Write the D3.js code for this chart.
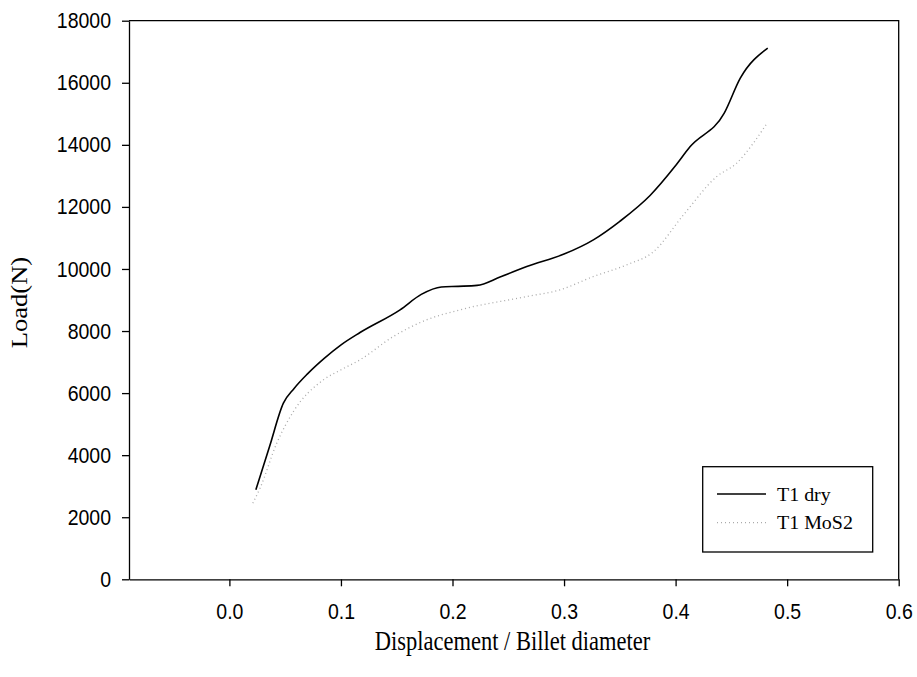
<!DOCTYPE html>
<html>
<head>
<meta charset="utf-8">
<script src="https://cdn.jsdelivr.net/npm/d3@7"></script>
<style>
    body { margin: 0; background: #fff; }
    .tick text { font-family: "Liberation Sans", Arial, sans-serif; font-size: 19.5px; fill: #000;
        transform-box: fill-box; transform-origin: center; transform: scaleY(1.12); }
    .domain, .tick line { stroke: #000; stroke-width: 1.3px; }
</style>
</head>
<body>
<div id="chart"></div>
<script>
// données
const xDry = [0.0237, 0.036, 0.0484, 0.058, 0.07, 0.085, 0.1001, 0.1171, 0.153, 0.172, 0.19, 0.205, 0.222, 0.2426, 0.2666, 0.3, 0.3263, 0.350, 0.3771, 0.3995, 0.4129, 0.4436, 0.458, 0.4826];
const loadDry = [2884, 4280, 5677, 6150, 6620, 7120, 7556, 7952, 8684, 9180, 9420, 9440, 9470, 9738, 10079, 10480, 10939, 11535, 12367, 13307, 13936, 15021, 16150, 17116];

const xMoS2 = [0.021, 0.0275, 0.0425, 0.0574, 0.0843, 0.1001, 0.1171, 0.147, 0.1769, 0.2068, 0.2666, 0.2964, 0.3263, 0.3562, 0.38, 0.4069, 0.4369, 0.4548, 0.4697, 0.481];
const loadMoS2 = [2455, 2939, 4389, 5407, 6428, 6751, 7073, 7824, 8362, 8684, 9112, 9328, 9757, 10134, 10550, 11736, 12979, 13411, 14055, 14645];

const xTicks = [0.0, 0.1, 0.2, 0.3, 0.4, 0.5, 0.6];
const yTicks = [0, 2000, 4000, 6000, 8000, 10000, 12000, 14000, 16000, 18000];
const seriesNames = ["T1 dry", "T1 MoS2"];

const width = 917;
const height = 677;
const marginLeft = 129;
const marginRight = 18.3;
const marginTop = 20.7;
const marginBottom = 97.7;

const x = d3.scaleLinear()
    .domain([-0.09, 0.6])
    .range([marginLeft, width - marginRight]);

const y = d3.scaleLinear()
    .domain([0, 18000])
    .range([height - marginBottom, marginTop]);

const svg = d3.select("#chart")
    .append("svg")
    .attr("width", width)
    .attr("height", height);

// cadre (haut et droite)
svg.append("path")
    .attr("d", `M${x.range()[0]},${y(18000)}H${x.range()[1]}V${y(0)}`)
    .attr("fill", "none")
    .attr("stroke", "#000")
    .attr("stroke-width", 1.3);

// axes
svg.append("g")
    .attr("transform", `translate(0,${y(0)})`)
    .call(d3.axisBottom(x).tickValues(xTicks).tickFormat(d3.format(".1f")).tickSize(7).tickPadding(18).tickSizeOuter(0));

svg.append("g")
    .attr("transform", `translate(${marginLeft},0)`)
    .call(d3.axisLeft(y).tickValues(yTicks).tickFormat(d => d).tickSize(7).tickPadding(11).tickSizeOuter(0));

// titres des axes
svg.append("text")
    .attr("transform", `translate(512.5,650) scale(1,1.18)`)
    .attr("text-anchor", "middle")
    .style("font-family", "'Liberation Serif', 'Times New Roman', serif")
    .style("font-size", "22.5px")
    .text("Displacement / Billet diameter");

svg.append("text")
    .attr("transform", `translate(27,302.5) rotate(-90) scale(1.18,1)`)
    .attr("text-anchor", "middle")
    .style("font-family", "'Liberation Serif', 'Times New Roman', serif")
    .style("font-size", "22.5px")
    .text("Load(N)");

// courbes
const line = d3.line()
    .x(d => x(d[0]))
    .y(d => y(d[1]))
    .curve(d3.curveMonotoneX);

svg.append("path")
    .datum(d3.zip(xMoS2, loadMoS2))
    .attr("d", line)
    .attr("fill", "none")
    .attr("stroke", "#aaa")
    .attr("stroke-width", 1.3)
    .attr("stroke-dasharray", "1,3");

svg.append("path")
    .datum(d3.zip(xDry, loadDry))
    .attr("d", line)
    .attr("fill", "none")
    .attr("stroke", "#000")
    .attr("stroke-width", 1.6);

// légende
const legend = svg.append("g");
legend.append("rect")
    .attr("x", 702.7)
    .attr("y", 466.7)
    .attr("width", 170)
    .attr("height", 85.3)
    .attr("fill", "#fff")
    .attr("stroke", "#000")
    .attr("stroke-width", 1.3);

const styles = [{stroke: "#000", dash: null, w: 1.6}, {stroke: "#aaa", dash: "1,3", w: 1.3}];
seriesNames.forEach((name, i) => {
    const ly = 494 + i * 28.7;
    legend.append("line")
        .attr("x1", 717).attr("x2", 766)
        .attr("y1", ly).attr("y2", ly)
        .attr("stroke", styles[i].stroke)
        .attr("stroke-width", styles[i].w)
        .attr("stroke-dasharray", styles[i].dash);
    legend.append("text")
        .attr("transform", `translate(777,${ly + 6.5}) scale(1.05,1)`)
        .style("font-family", "'Liberation Serif', 'Times New Roman', serif")
        .style("font-size", "19px")
        .text(name);
});
</script>
</body>
</html>
